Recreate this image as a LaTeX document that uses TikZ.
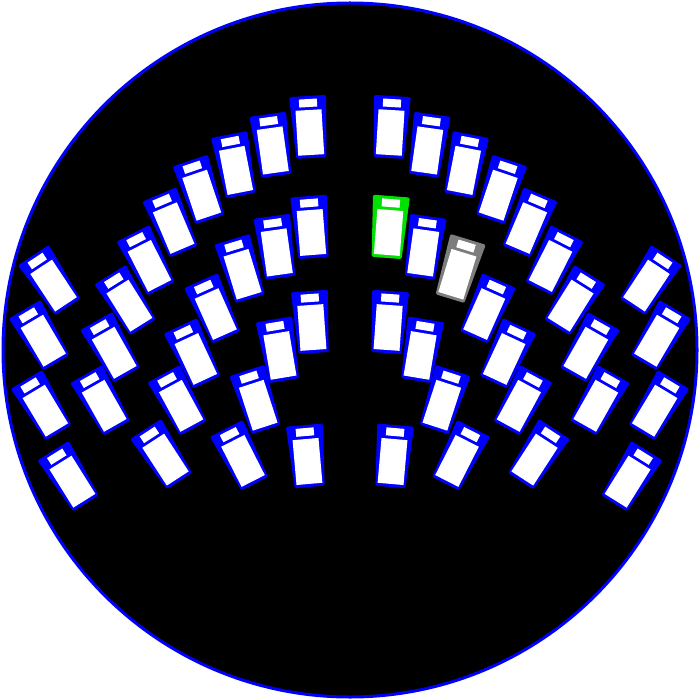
\documentclass[tikz,border=0pt]{standalone}
\definecolor{seatblue}{RGB}{0,0,255}
\definecolor{seatgreen}{RGB}{0,225,0}
\definecolor{seatgray}{RGB}{125,125,125}
\newcommand{\seatat}[4]{%
  \begin{scope}[shift={(#1,#2)},rotate=#3]
    \fill[#4, rounded corners=1.5pt] (-18.5pt,31pt) -- (18.5pt,31pt) -- (15pt,-31pt) -- (-15pt,-31pt) -- cycle;
    \fill[white] (-9pt,28pt) rectangle (9pt,20pt);
    \fill[white] (-13pt,17pt) rectangle (13pt,-28pt);
  \end{scope}}
\begin{document}
\begin{tikzpicture}[x=1pt,y=-1pt]
\useasboundingbox (0,0) rectangle (700,700);
\fill[white] (0,0) rectangle (700,700);
\fill[black] (350,350) circle (347pt);
\draw[seatblue, line width=3pt] (350,350) circle (347pt);
\foreach \x/\y/\a/\rc in {
  309.5/127/3.5/seatblue, 272/145/8/seatblue, 235/165/11/seatblue,
  200/190/18.5/seatblue, 171.5/223/23/seatblue, 147/261/27/seatblue,
  50.5/281/33.5/seatblue,
  311/227/4.5/seatgreen, 276/247/8/seatblue, 241/269/17/seatgray,
  213.5/309/24/seatblue, 126.5/301/32/seatblue,
  40.5/336/30.5/seatblue, 111.5/348/29.5/seatblue, 193.5/354/25/seatblue,
  311.5/322/4/seatblue, 279/350/9.5/seatblue, 256.5/400/18/seatblue,
  42.5/406/31/seatblue, 101.5/401/29.5/seatblue, 178.5/401/28.5/seatblue,
  69.5/477/32/seatblue, 162.5/455/33/seatblue, 240.5/456/27/seatblue,
  307/456/5/seatblue}
{
  \seatat{\x}{\y}{\a}{seatblue}
  \seatat{700-\x}{\y}{-\a}{\rc}
}
\end{tikzpicture}
\end{document}
